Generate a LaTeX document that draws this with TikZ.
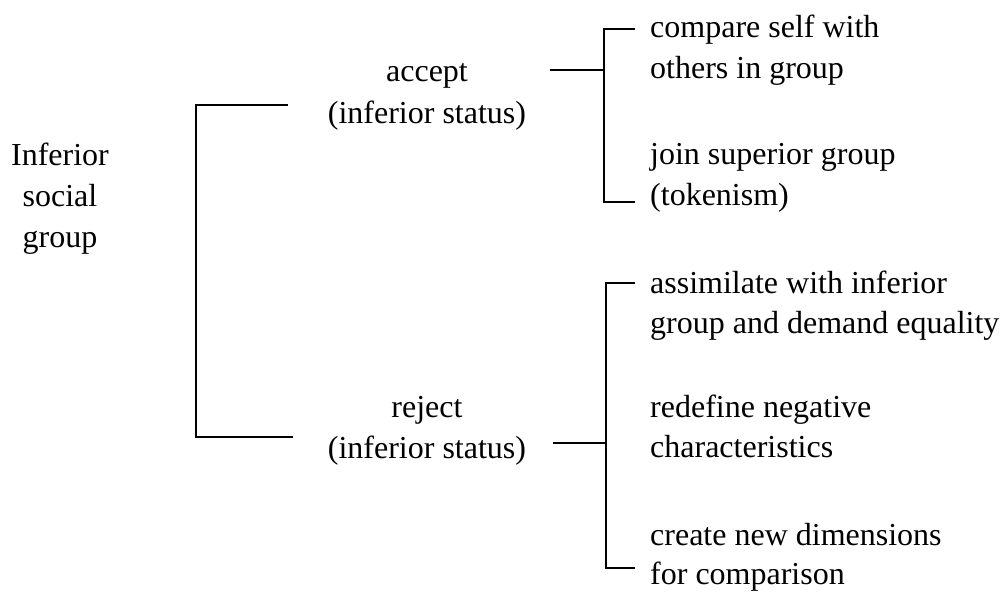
\documentclass[tikz,border=0pt]{standalone}
\usepackage{fontspec}
\setmainfont{Liberation Serif}
\begin{document}
\begin{tikzpicture}[x=1pt,y=-1pt]
\tikzset{
  lbl/.style={font=\fontsize{32}{41}\selectfont, inner sep=0pt},
  lblc/.style={lbl, anchor=base},
  lbll/.style={lbl, anchor=base west},
  ln/.style={line width=1.5pt, line join=miter, line cap=butt}
}
\useasboundingbox (0,0) rectangle (1002,592);

% root
\node[lblc] (isg1) at (60,165) {Inferior};
\node[lblc] (isg2) at (60,206) {social};
\node[lblc] (isg3) at (60,247) {group};

% middle
\node[lblc] (acc1) at (427,81) {accept};
\node[lblc] (acc2) at (427,123) {(inferior status)};
\node[lblc] (rej1) at (427,417) {reject};
\node[lblc] (rej2) at (427,458) {(inferior status)};

% right, accept
\node[lbll] (a11) at (650,37) {compare self with};
\node[lbll] (a12) at (650,78) {others in group};
\node[lbll] (a21) at (650,164) {join superior group};
\node[lbll] (a22) at (650,205) {(tokenism)};

% right, reject
\node[lbll] (r11) at (650,293) {assimilate with inferior};
\node[lbll] (r12) at (650,333) {group and demand equality};
\node[lbll] (r21) at (650,417) {redefine negative};
\node[lbll] (r22) at (650,457) {characteristics};
\node[lbll] (r31) at (650,545) {create new dimensions};
\node[lbll] (r32) at (650,584) {for comparison};

% bracket coordinates
\coordinate (lbTop) at (288,105);
\coordinate (lbBot) at (293,437);
\coordinate (aIn) at (550,70);
\coordinate (aTop) at (635,29);
\coordinate (aBot) at (635,202);
\coordinate (rIn) at (553,443);
\coordinate (rTop) at (635,283);
\coordinate (rBot) at (635,568);

% connectors
\draw[ln] (lbTop) -- (196,105) |- (lbBot);
\draw[ln] (aIn) -- (604,70);
\draw[ln] (aTop) -- (604,29) |- (aBot);
\draw[ln] (rIn) -- (606,443);
\draw[ln] (rTop) -- (606,283) |- (rBot);
\end{tikzpicture}
\end{document}
